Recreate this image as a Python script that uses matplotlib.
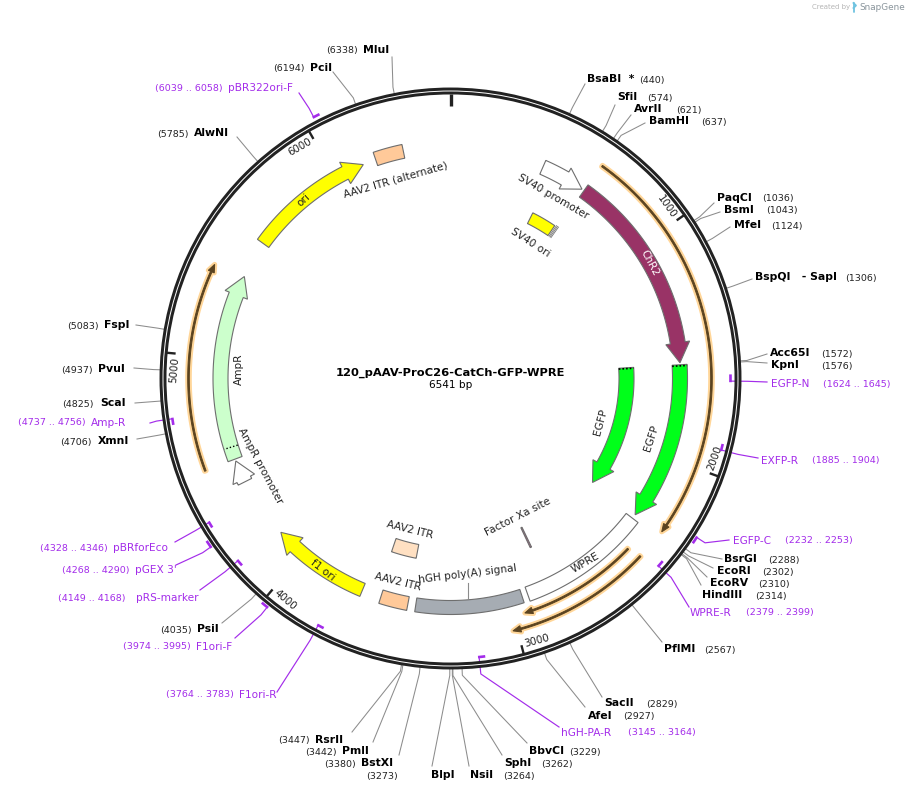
import numpy as np
import matplotlib
matplotlib.use('Agg')
import matplotlib.pyplot as plt
from matplotlib.patches import Polygon, Circle

plt.rcParams['font.family'] = 'DejaVu Sans'

total_bp = 6541
plasmid_name = '120_pAAV-ProC26-CatCh-GFP-WPRE'

# restriction sites
enzyme_names = ['BsaBI  *', 'SfiI', 'AvrII', 'BamHI', 'PaqCI', 'BsmI', 'MfeI', 'BspQI   - SapI',
                'Acc65I', 'KpnI', 'BsrGI', 'EcoRI', 'EcoRV', 'HindIII', 'PflMI', 'SacII', 'AfeI',
                'BbvCI', 'SphI', 'NsiI', 'BlpI', 'BstXI', 'PmlI', 'RsrII', 'PsiI', 'XmnI', 'ScaI',
                'PvuI', 'FspI', 'AlwNI', 'PciI', 'MluI']
enzyme_sites = [440, 574, 621, 637, 1036, 1043, 1124, 1306, 1572, 1576, 2288, 2302, 2310, 2314,
                2567, 2829, 2927, 3229, 3262, 3264, 3273, 3380, 3442, 3447, 4035, 4706, 4825,
                4937, 5083, 5785, 6194, 6338]

# primers
primer_names = ['EGFP-N', 'EXFP-R', 'EGFP-C', 'WPRE-R', 'hGH-PA-R', 'F1ori-R', 'F1ori-F',
                'pRS-marker', "pGEX 3'", 'pBRforEco', 'Amp-R', 'pBR322ori-F']
primer_start = [1624, 1885, 2232, 2379, 3145, 3764, 3974, 4149, 4268, 4328, 4737, 6039]
primer_end = [1645, 1904, 2253, 2399, 3164, 3783, 3995, 4168, 4290, 4346, 4756, 6058]

# features
feature_names = ['SV40 promoter', 'SV40 ori', 'ChR2', 'EGFP', 'EGFP', 'WPRE', 'Factor Xa site',
                 'hGH poly(A) signal', 'AAV2 ITR', 'AAV2 ITR', 'f1 ori', 'AmpR promoter', 'AmpR',
                 'ori', 'AAV2 ITR (alternate)']
feature_start = [429, 480, 643, 1573, 1572, 2317, 2804, 2940, 3465, 3467, 3681, 4421, 4533, 5556, 6198]
feature_end = [632, 623, 1564, 2297, 2293, 2913, 2812, 3429, 3592, 3612, 4139, 4524, 5384, 6138, 6328]

# orange translated-style arcs
orf_start = [645, 2431, 2418, 4530]
orf_end = [2289, 2951, 3018, 5375]

ruler_ticks = [1000, 2000, 3000, 4000, 5000, 6000]

# ---- layout, all pixels ----
W, H = 909, 793
cx, cy = 450.5, 378.5
RING = 287

enzyme_label_x = [587, 617, 634, 649, 717, 724, 734, 755, 770, 771, 724, 717, 710, 702, 664, 604, 588,
                  529, 504, 470, 431, 361, 342, 315, 197, 98, 100, 98, 104, 194, 310, 363]
enzyme_label_y = [79, 97, 109, 121, 198, 210, 225, 277, 353, 365, 559, 571, 583, 595, 649, 703, 716,
                  751, 763, 775, 775, 763, 751, 740, 629, 441, 403, 369, 325, 133, 68, 50]
# where the number goes, left edge
enzyme_num_x = [639, 647, 676, 701, 762, 766, 771, 845, 821, 821, 768, 762, 758, 755, 704, 646, 623,
                569, 541, 503, 366, 324, 305, 278, 160, 60, 62, 61, 67, 157, 273, 326]
# where the leader line ends
enzyme_end = [(585, 84), (615, 105), (631, 115), (645, 123), (714, 203), (720, 212), (730, 227), (752, 279),
              (767, 354), (767, 363), (722, 559), (713, 568), (707, 577), (701, 585), (662, 642), (602, 697),
              (585, 707), (527, 743), (502, 755), (469, 766), (432, 766), (399, 755), (373, 742), (352, 732),
              (222, 623), (137, 439), (135, 403), (134, 368), (136, 325), (237, 137), (333, 72), (392, 57)]

primer_label_x = [771, 761, 733, 690, 561, 239, 196, 136, 135, 113, 91, 228]
primer_label_y = [384, 461, 541, 613, 733, 695, 647, 598, 570, 548, 423, 88]
primer_range_x = [823, 812, 785, 746, 628, 166, 123, 58, 62, 40, 18, 155]
primer_radius = [280, 280, 293, 280, 280, 280, 293, 280, 293, 281, 281, 295]
primer_end_xy = [(767, 382), (758, 458), (729, 540), (689, 607), (559, 727), (277, 692), (235, 638),
                 (200, 590), (176, 565), (175, 542), (150, 423), (299, 93)]

purple = '#a32cea'
leader = '#8c8c8c'


def bp_xy(bp, r):
    a = np.asarray(bp, dtype=float) / total_bp * 2 * np.pi
    return cx + r * np.sin(a), cy - r * np.cos(a)


def band(b0, b1, r0, r1):
    t = np.linspace(b0, b1, 60)
    x0, y0 = bp_xy(t, r0)
    x1, y1 = bp_xy(t[::-1], r1)
    return np.column_stack([np.r_[x0, x1], np.r_[y0, y1]])


def arrow(b0, b1, r, w, head_w, head_px):
    # always clockwise here
    hb = b1 - head_px / r / (2 * np.pi) * total_bp
    t = np.linspace(b0, hb, 60)
    x0, y0 = bp_xy(t, r + w / 2)
    x1, y1 = bp_xy(t[::-1], r - w / 2)
    hx0, hy0 = bp_xy(hb, r + head_w / 2)
    hx1, hy1 = bp_xy(hb, r - head_w / 2)
    tx, ty = bp_xy(b1, r)
    xs = np.r_[x0, hx0, tx, hx1, x1]
    ys = np.r_[y0, hy0, ty, hy1, y1]
    return np.column_stack([xs, ys])


fig = plt.figure(figsize=(W / 100, H / 100), dpi=100)
ax = fig.add_axes([0, 0, 1, 1])
ax.set_xlim(0, W)
ax.set_ylim(H, 0)
ax.axis('off')

# leaders first so the ring goes over them
for i, bp in enumerate(enzyme_sites):
    x0, y0 = bp_xy(bp, RING)
    x1, y1 = bp_xy(bp, RING + 10)
    ex, ey = enzyme_end[i]
    ax.plot([x0, x1, ex], [y0, y1, ey], color=leader, lw=0.75, zorder=1)
    ax.text(enzyme_label_x[i], enzyme_label_y[i], enzyme_names[i], fontsize=7.8, fontweight='bold',
            va='center', ha='left', color='black')
    ax.text(enzyme_num_x[i], enzyme_label_y[i] + 1, '(%d)' % bp, fontsize=6.8, va='center', ha='left',
            color='#222222')

for i, name in enumerate(primer_names):
    r = primer_radius[i]
    # the leader hangs off one end of the little arc, which end depends on the strand side
    hook = primer_start[i] if r > RING else primer_end[i]
    x0, y0 = bp_xy(hook, r)
    x1, y1 = bp_xy(hook, max(r, RING) + 10)
    ex, ey = primer_end_xy[i]
    ax.plot([x0, x1, ex], [y0, y1, ey], color=purple, lw=0.85, zorder=1)
    t = np.linspace(primer_start[i] - 4, primer_end[i] + 4, 6)
    mx, my = bp_xy(t, r)
    ax.plot(mx, my, color=purple, lw=1.9, solid_capstyle='butt', zorder=4)
    ax.text(primer_label_x[i], primer_label_y[i], name, fontsize=7.6, color=purple, va='center', ha='left')
    ax.text(primer_range_x[i], primer_label_y[i], '(%d .. %d)' % (primer_start[i], primer_end[i]),
            fontsize=6.8, color=purple, va='center', ha='left')

# backbone ring, two dark lines with a white gap
ax.add_patch(Circle((cx, cy), RING + 0.5, fill=False, ec='#222222', lw=5.0, zorder=3))
ax.add_patch(Circle((cx, cy), RING + 0.5, fill=False, ec='white', lw=0.7, zorder=3))

# ruler
for bp in [0] + ruler_ticks:
    r_in = RING - 14 if bp == 0 else RING - 11
    x, y = bp_xy([bp, bp], [RING - 2, r_in])
    ax.plot(x, y, color='#222222', lw=2.4 if bp == 0 else 1.7, solid_capstyle='butt', zorder=3)
    if bp:
        lx, ly = bp_xy(bp - 62, RING - 11)
        rot = -(bp / total_bp * 360)
        rot = (rot + 90) % 180 - 90
        ax.text(lx, ly, str(bp), fontsize=7.4, rotation=rot, rotation_mode='anchor', ha='center',
                va='center', color='#222222')

# features: radius, width, colour, shape
edge = '#6e6e6e'
shapes = [(230.5, 15, 'white', 'arrow'), (179, 12, '#ffff00', 'box'), (230, 15, '#993366', 'arrow'),
          (229.5, 15, '#00ff1a', 'arrow'), (176, 15, '#00ff1a', 'arrow'), (229, 15, 'white', 'box'),
          (176, 22, '#b0648c', 'box'), (229, 14, '#a6acb3', 'box'), (229, 14, '#ffc999', 'box'),
          (176, 14, '#ffe0c2', 'box'), (229, 14, '#ffff00', 'arrow'), (230, 15, 'white', 'arrow'),
          (230, 15, '#ccffcc', 'arrow'), (231, 14, '#ffff00', 'arrow'), (232, 14, '#ffc999', 'box')]
for i, (r, w, col, kind) in enumerate(shapes):
    if kind == 'arrow':
        pts = arrow(feature_start[i], feature_end[i], r, w, 24, 20)
    else:
        pts = band(feature_start[i], feature_end[i], r - w / 2, r + w / 2)
    ax.add_patch(Polygon(pts, closed=True, fc=col, ec=edge, lw=0.8, joinstyle='miter', zorder=5))

# dotted ends on EGFP and the AmpR promoter overlap
for i in [3, 4]:
    r = shapes[i][0]
    x, y = bp_xy([feature_start[i] + 5, feature_start[i] + 5], [r - 7.5, r + 7.5])
    ax.plot(x, y, color='black', lw=1.2, ls=(0, (1, 1.2)), zorder=6)
x, y = bp_xy([4590, 4590], [223, 237])
ax.plot(x, y, color='black', lw=1.0, ls=(0, (1, 1.5)), zorder=6)

# hatch next to SV40 ori
for off in [8, 15, 22]:
    x, y = bp_xy([feature_end[1] + off, feature_end[1] + off], [173, 186])
    ax.plot(x, y, color='#777777', lw=0.6, zorder=5)

# orange arcs, thin dark arrow with a soft halo
for s, e, r in zip(orf_start, orf_end, [261, 246, 260, 262]):
    pts = arrow(s, e, r, 1.6, 6.5, 8)
    ax.add_patch(Polygon(pts, closed=True, fc='#ffd699', ec='#ffd699', lw=3.6, joinstyle='round', zorder=4))
    ax.add_patch(Polygon(pts, closed=True, fc='#5a4320', ec='#5a4320', lw=0.7, joinstyle='miter', zorder=5))

# feature labels
feature_label_xy = [(553, 197), (530, 243), (650, 263), (651, 438), (601, 422), (585, 563), (518, 517),
                    (467, 574), (398, 582), (410, 530), (323, 570), (260, 466), (239, 369), (304, 200),
                    (396, 180)]
feature_label_rot = [-30, -33, -62, 72, 75, 30, 27, 7, -14, -14, -38, -62, 90, 42, 16]
for i, name in enumerate(feature_names):
    col = 'white' if name == 'ChR2' else '#222222'
    ax.text(feature_label_xy[i][0], feature_label_xy[i][1], name, fontsize=7.6, color=col, ha='center',
            va='center', rotation=feature_label_rot[i], rotation_mode='anchor', zorder=7)
ax.plot([468, 468], [583, 598], color=leader, lw=0.8, zorder=4)

# centre text
ax.text(450.5, 373, plasmid_name, fontsize=8.25, fontweight='bold', ha='center', va='center')
ax.text(450.5, 385, '%d bp' % total_bp, fontsize=7.6, ha='center', va='center')

# watermark
ax.text(812, 7.5, 'Created by', fontsize=5, color='#b5b5b5', ha='left', va='center')
ax.text(859.5, 7.5, 'SnapGene', fontsize=6.4, color='#8a959c', ha='left', va='center')
ax.plot([853.5, 853.5], [3, 12], color='#6fc3e0', lw=1.3, solid_capstyle='round')
ax.plot([853.5, 856, 853.5], [3, 5.5, 8], color='#6fc3e0', lw=1.3)

fig.savefig('out.png', dpi=100)
